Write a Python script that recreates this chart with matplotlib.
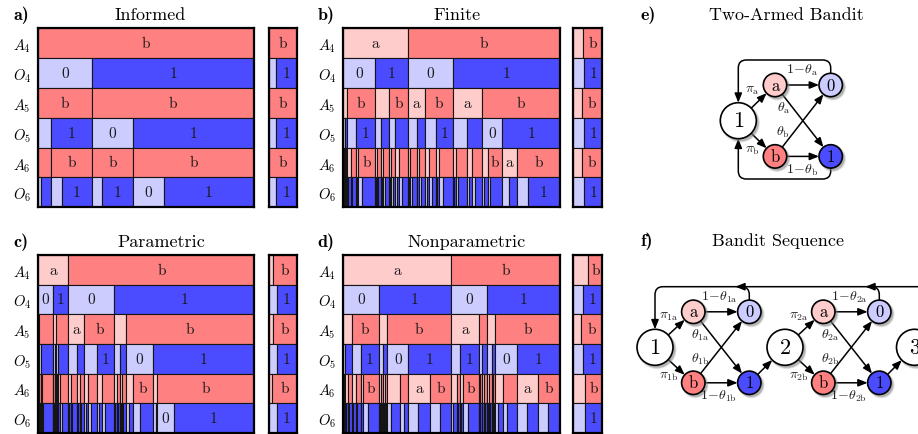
import matplotlib.pyplot as plt
from matplotlib.patches import Circle, FancyArrowPatch
from matplotlib.path import Path

plt.rcParams['mathtext.fontset'] = 'cm'
plt.rcParams['axes.unicode_minus'] = False

W, H = 918, 435
LABEL_MIN = 0.066   # narrower segments get no letter

COLORS = {'a': '#ffcccc', 'b': '#ff8080', '0': '#ccccff', '1': '#4b4bff'}
ROW_LABELS = [r'$A_4$', r'$O_4$', r'$A_5$', r'$O_5$', r'$A_6$', r'$O_6$']

# rows of the rollout tree: outcome of each segment and its probability mass (%)
INFORMED = [
    ('b', [100.0]),
    ('01', [25.0, 75.0]),
    ('bb', [25.0, 75.0]),
    ('0101', [6.2, 18.8, 18.9, 56.1]),
    ('bbbb', [6.2, 18.8, 18.9, 56.1]),
    ('01010101', [1.4, 4.8, 4.9, 13.9, 4.6, 14.3, 14.2, 41.9]),
]

FINITE = [
    ('ab', [29.9, 70.1]),
    ('0101', [14.9, 15.0, 21.0, 49.1]),
    ('abababab', [2.1, 12.8, 6.4, 8.6, 8.0, 13.0, 13.0, 36.1]),
    ('0101010101010101', [1.1, 1.0, 4.0, 8.8, 2.6, 3.8, 2.8, 5.8,
                          4.1, 3.9, 5.1, 7.9, 6.5, 6.5, 9.5, 26.6]),
    ('abababababababababababababababab',
     [0.5, 0.6, 0.4, 0.6, 1.5, 2.5, 1.1, 7.7, 1.0, 1.6, 1.2, 2.6, 1.1, 1.7, 2.0, 3.8,
      1.1, 3.0, 1.2, 2.7, 2.0, 3.1, 1.5, 6.4, 1.2, 5.3, 2.2, 4.3, 2.8, 6.7, 6.7, 19.9]),
    ('0101010101010101010101010101010101010101010101010101010101010101',
     [0.2, 0.3, 0.2, 0.4, 0.1, 0.3, 0.2, 0.4, 0.5, 1.0, 0.7, 1.8, 0.4, 0.7, 1.8, 5.9,
      0.4, 0.6, 0.5, 1.1, 0.4, 0.8, 0.8, 1.8, 0.4, 0.7, 0.6, 1.1, 0.7, 1.3, 1.1, 2.7,
      0.4, 0.7, 0.9, 2.1, 0.4, 0.8, 0.8, 1.9, 0.7, 1.3, 1.0, 2.1, 0.5, 1.0, 1.8, 4.6,
      0.4, 0.8, 1.0, 4.3, 0.8, 1.4, 1.2, 3.1, 1.0, 1.8, 1.3, 5.4, 3.1, 3.6, 5.1, 14.8]),
]

PARAMETRIC = [
    ('ab', [14.2, 85.8]),
    ('0101', [6.9, 7.3, 21.2, 64.6]),
    ('abababab', [0.5, 6.4, 1.5, 5.8, 7.4, 13.8, 5.4, 59.2]),
    ('0101010101010101', [0.2, 0.3, 1.1, 5.3, 1.0, 0.5, 0.8, 5.0,
                          3.8, 3.6, 5.7, 8.1, 2.6, 2.8, 12.3, 46.9]),
    ('abababababababababababababababab',
     [0.1, 0.1, 0.1, 0.2, 0.3, 0.8, 0.5, 4.8, 0.3, 0.7, 0.2, 0.3, 0.3, 0.5, 1.2, 3.8,
      1.1, 2.7, 1.3, 2.3, 1.8, 3.9, 2.3, 5.8, 1.1, 1.5, 0.9, 1.9, 3.4, 8.9, 2.2, 44.7]),
    ('0101010101010101010101010101010101010101010101010101010101010101',
     [0.05, 0.05, 0.05, 0.05, 0.05, 0.05, 0.1, 0.1, 0.1, 0.2, 0.3, 0.5, 0.2, 0.3, 0.4, 4.4,
      0.1, 0.2, 0.2, 0.5, 0.1, 0.1, 0.1, 0.2, 0.1, 0.2, 0.2, 0.3, 0.4, 0.8, 0.6, 3.2,
      0.4, 0.7, 0.7, 2.0, 0.5, 0.8, 0.6, 1.7, 0.6, 1.2, 1.0, 2.9, 0.8, 1.5, 1.4, 4.4,
      0.4, 0.7, 0.5, 1.0, 0.3, 0.6, 0.6, 1.3, 1.5, 1.9, 3.0, 5.9, 1.5, 0.7, 7.4, 37.3]),
]

NONPARAMETRIC = [
    ('ab', [49.8, 50.2]),
    ('0101', [16.7, 33.1, 16.7, 33.5]),
    ('abababab', [4.1, 12.6, 3.8, 29.3, 12.9, 3.8, 3.8, 29.7]),
    ('0101010101010101', [1.1, 3.0, 4.1, 8.5, 2.0, 1.8, 9.7, 19.6,
                          4.1, 8.8, 1.2, 2.6, 2.0, 1.8, 9.7, 20.0]),
    ('abababababababababababababababab',
     [0.5, 0.6, 1.2, 1.8, 2.0, 2.1, 1.2, 7.3, 0.8, 1.2, 0.6, 1.2, 5.8, 3.9, 10.0, 9.6,
      2.6, 1.5, 1.5, 7.3, 0.5, 0.7, 1.0, 1.6, 0.8, 1.2, 0.7, 1.1, 3.5, 6.2, 10.0, 10.0]),
    ('0101010101010101010101010101010101010101010101010101010101010101',
     [0.2, 0.3, 0.2, 0.4, 0.4, 0.8, 0.6, 1.2, 0.7, 1.3, 0.7, 1.4, 0.4, 0.8, 2.3, 5.0,
      0.3, 0.5, 0.4, 0.8, 0.2, 0.4, 0.4, 0.8, 1.5, 4.3, 1.8, 2.1, 4.6, 5.4, 4.6, 5.0,
      1.0, 1.6, 0.5, 1.0, 0.5, 1.0, 2.3, 5.0, 0.2, 0.3, 0.2, 0.5, 0.4, 0.6, 0.5, 1.1,
      0.3, 0.5, 0.4, 0.8, 0.2, 0.5, 0.4, 0.7, 1.2, 2.3, 1.8, 4.4, 4.6, 5.4, 4.6, 5.4]),
]

# marginal share (%) of the light outcome ('a' or '0') per row
INFORMED_SIDE = [0, 24, 0, 24, 0, 24]
FINITE_SIDE = [32, 37, 31, 37, 31, 37]
PARAMETRIC_SIDE = [12, 27, 12, 27, 10, 27]
NONPARAMETRIC_SIDE = [52, 34, 25, 35, 40, 40]

EDGE = '#151515'
SEG_FS = 11


def box(x0, y0, x1, y1):
    return [x0 / W, 1 - y1 / H, (x1 - x0) / W, (y1 - y0) / H]


def frame(ax):
    ax.set_xlim(0, 1)
    ax.set_ylim(5.5, -0.5)
    ax.set_xticks([])
    for s in ax.spines.values():
        s.set_linewidth(1.6)
        s.set_zorder(5)


def draw_tree(ax, rows):
    for i, (vals, widths) in enumerate(rows):
        total = sum(widths)
        left = 0.0
        for v, w in zip(vals, widths):
            f = w / total
            ax.barh(i, f, left=left, height=1.0, color=COLORS[v],
                    edgecolor=EDGE, linewidth=0.8)
            if f >= LABEL_MIN:
                ax.text(left + f / 2, i, v, ha='center', va='center',
                        fontsize=SEG_FS, family='cmr10', color='#1a1a1a')
            left += f
    frame(ax)
    ax.set_yticks(range(len(rows)))
    ax.set_yticklabels(ROW_LABELS, fontsize=10.5)
    ax.tick_params(length=0, pad=5)


def draw_side(ax, light):
    for i, p in enumerate(light):
        kinds = 'ab' if i % 2 == 0 else '01'
        f = p / 100
        if f > 0:
            ax.barh(i, f, left=0, height=1.0, color=COLORS[kinds[0]],
                    edgecolor=EDGE, linewidth=0.8)
        ax.barh(i, 1 - f, left=f, height=1.0, color=COLORS[kinds[1]],
                edgecolor=EDGE, linewidth=0.8)
        ax.text(f + (1 - f) / 2, i, kinds[1], ha='center', va='center',
                fontsize=SEG_FS, family='cmr10', color='#1a1a1a')
    frame(ax)
    ax.set_yticks([])


fig = plt.figure(figsize=(W / 100, H / 100), dpi=100)

panels = [
    (INFORMED, INFORMED_SIDE, 'a)', 'Informed', 37.7, 254.3, 269.3, 296.7, 29.3, 208.3, 21, 150),
    (FINITE, FINITE_SIDE, 'b)', 'Finite', 342.7, 560.0, 573.3, 602.3, 29.3, 208.3, 326.5, 457),
    (PARAMETRIC, PARAMETRIC_SIDE, 'c)', 'Parametric', 37.7, 254.3, 269.3, 296.7, 256.0, 433.8, 20.5, 161.3),
    (NONPARAMETRIC, NONPARAMETRIC_SIDE, 'd)', 'Nonparametric', 342.7, 560.0, 573.3, 602.3, 256.0, 433.8, 326, 467),
]

for rows, side, tag, title, mx0, mx1, sx0, sx1, y0, y1, tx, cx in panels:
    ax = fig.add_axes(box(mx0, y0, mx1, y1))
    draw_tree(ax, rows)
    sax = fig.add_axes(box(sx0, y0, sx1, y1))
    draw_side(sax, side)
    base = 1 - (y0 - 8.8) / H
    fig.text(tx / W, base, tag, family='cmb10', fontsize=13, ha='center', va='baseline')
    fig.text(cx / W, base, title, family='cmr10', fontsize=13, ha='center', va='baseline')

# bandit diagrams
g = fig.add_axes([610 / W, 0, 308 / W, 1])
g.set_xlim(610, W)
g.set_ylim(H, 0)
g.axis('off')

R_BIG, R_SMALL = 18.0, 11.7
ARROW = dict(arrowstyle='-|>,head_length=0.55,head_width=0.22', mutation_scale=10,
             color='black', linewidth=1.1, shrinkA=0, shrinkB=0, zorder=2)


def node(x, y, r, fc, label, fs):
    for k, a in ((1.6, 0.18), (0.9, 0.25), (0.2, 0.35)):
        g.add_patch(Circle((x + 2.0, y + 2.2), r + k, fc='#808080', ec='none', alpha=a, zorder=3))
    g.add_patch(Circle((x, y), r, fc=fc, ec='black', lw=1.2, zorder=4))
    g.text(x, y, label, ha='center', va='center', fontsize=fs, family='cmr10', zorder=5)


def arrow(p, rp, q, rq):
    dx, dy = q[0] - p[0], q[1] - p[1]
    d = (dx * dx + dy * dy) ** 0.5
    ux, uy = dx / d, dy / d
    g.add_patch(FancyArrowPatch((p[0] + ux * rp, p[1] + uy * rp),
                                (q[0] - ux * rq, q[1] - uy * rq), **ARROW))


def path_arrow(verts, codes):
    g.add_patch(FancyArrowPatch(path=Path(verts, codes), **ARROW))


def stage(ox, oy, dx1, dx2, dy, num, sub):
    start = (ox, oy)
    pa, pb = (ox + dx1, oy - dy), (ox + dx1, oy + dy)
    p0, p1 = (ox + dx2, oy - dy), (ox + dx2, oy + dy)
    node(ox, oy, R_BIG, 'white', num, 16)
    node(pa[0], pa[1], R_SMALL, COLORS['a'], 'a', 12)
    node(pb[0], pb[1], R_SMALL, COLORS['b'], 'b', 12)
    node(p0[0], p0[1], R_SMALL, COLORS['0'], '0', 12)
    node(p1[0], p1[1], R_SMALL, COLORS['1'], '1', 12)
    arrow(start, R_BIG, pa, R_SMALL)
    arrow(start, R_BIG, pb, R_SMALL)
    arrow(pa, R_SMALL, p0, R_SMALL)
    arrow(pa, R_SMALL, p1, R_SMALL)
    arrow(pb, R_SMALL, p0, R_SMALL)
    arrow(pb, R_SMALL, p1, R_SMALL)
    sa, sb = sub, sub.replace('a', 'b')
    lab = dict(ha='center', va='center', fontsize=10, zorder=6, color='#222222')
    g.text(ox + 14, oy - 32, r'$\pi_{%s}$' % sa, **lab)
    g.text(ox + 14, oy + 28, r'$\pi_{%s}$' % sb, **lab)
    g.text(ox + 64, oy - 51, r'$1\!-\!\theta_{%s}$' % sa, **lab)
    g.text(ox + 45, oy - 13, r'$\theta_{%s}$' % sa, **lab)
    g.text(ox + 45, oy + 11, r'$\theta_{%s}$' % sb, **lab)
    g.text(ox + 64, oy + 48.5, r'$1\!-\!\theta_{%s}$' % sb, **lab)
    return p0, p1


M, L, C = Path.MOVETO, Path.LINETO, Path.CURVE3

# e) single two-armed bandit with its two return loops
ex, ey = 738.3, 121.7
e0, e1 = stage(ex, ey, 36.7, 92.4, 35.7, '1', r'\rm a')
top, bot = 61.0, 180.0
path_arrow([(e0[0], e0[1] - R_SMALL), (e0[0], top + 8), (e0[0], top), (e0[0] - 8, top),
            (ex + 8, top), (ex, top), (ex, top + 8), (ex, ey - R_BIG)],
           [M, L, C, C, L, C, C, L])
path_arrow([(e1[0], e1[1] + R_SMALL), (e1[0], bot - 8), (e1[0], bot), (e1[0] - 8, bot),
            (ex + 8, bot), (ex, bot), (ex, bot - 8), (ex, ey + R_BIG)],
           [M, L, C, C, L, C, C, L])

# f) chain of bandits
fx, fy = 655.0, 348.3
f01, f11 = stage(fx, fy, 38.3, 94.3, 35.5, '1', r'1{\rm a}')
f2x = 785.0
f02, f12 = stage(f2x, fy, 38.3, 94.3, 35.5, '2', r'2{\rm a}')
node(914.5, fy, R_BIG, 'white', '3', 16)
arrow(f11, R_SMALL, (f2x, fy), R_BIG)
arrow(f12, R_SMALL, (914.5, fy), R_BIG)

line_y = 287.7
path_arrow([(930, line_y), (fx + 8, line_y), (fx, line_y), (fx, line_y + 8), (fx, fy - R_BIG)],
           [M, L, C, C, L])
for p in (f01, f02):
    path_arrow([(p[0], p[1] - R_SMALL), (p[0], line_y + 8), (p[0], line_y), (p[0] - 8, line_y),
                (p[0] - 14, line_y)],
               [M, L, C, C, L])

fig.text(648 / W, 1 - 20.5 / H, 'e)', family='cmb10', fontsize=13, ha='center', va='baseline')
fig.text(786.7 / W, 1 - 20.5 / H, 'Two-Armed Bandit', family='cmr10', fontsize=13,
         ha='center', va='baseline')
fig.text(646.7 / W, 1 - 246.5 / H, 'f)', family='cmb10', fontsize=13, ha='center', va='baseline')
fig.text(778.3 / W, 1 - 246.5 / H, 'Bandit Sequence', family='cmr10', fontsize=13,
         ha='center', va='baseline')

fig.savefig('out.png', dpi=100)
